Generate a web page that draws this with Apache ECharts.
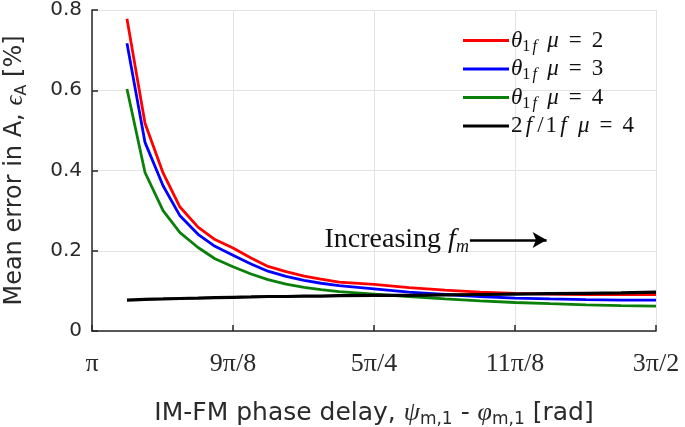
<!DOCTYPE html>
<html>
<head>
<meta charset="utf-8">
<script src="https://cdn.jsdelivr.net/npm/echarts@6/dist/echarts.min.js"></script>
<style>
html,body{margin:0;padding:0;background:#fff;}
#chart{width:685px;height:427px;}
</style>
</head>
<body>
<div id="chart"></div>
<script>
// x values in units of pi (rad / pi)
const phaseDelay = [1.031, 1.047, 1.063, 1.078, 1.094, 1.109, 1.125, 1.141, 1.156, 1.172, 1.188, 1.203, 1.219, 1.25, 1.281, 1.313, 1.344, 1.375, 1.406, 1.438, 1.469, 1.5];
const theta1f_mu2 = [0.778, 0.518, 0.394, 0.309, 0.259, 0.228, 0.207, 0.182, 0.161, 0.148, 0.137, 0.129, 0.122, 0.116, 0.108, 0.102, 0.097, 0.094, 0.092, 0.091, 0.091, 0.091];
const theta1f_mu3 = [0.717, 0.470, 0.362, 0.287, 0.241, 0.211, 0.189, 0.167, 0.149, 0.136, 0.126, 0.119, 0.113, 0.105, 0.097, 0.091, 0.086, 0.082, 0.080, 0.078, 0.077, 0.077];
const theta1f_mu4 = [0.603, 0.395, 0.300, 0.245, 0.208, 0.180, 0.160, 0.142, 0.128, 0.117, 0.109, 0.103, 0.098, 0.092, 0.086, 0.080, 0.075, 0.071, 0.068, 0.065, 0.063, 0.062];
const ratio2f1f_mu4 = [0.077, 0.079, 0.080, 0.081, 0.082, 0.083, 0.084, 0.085, 0.086, 0.086, 0.087, 0.087, 0.088, 0.089, 0.089, 0.090, 0.091, 0.092, 0.093, 0.094, 0.095, 0.097];
const xTickValues = [1, 1.125, 1.25, 1.375, 1.5];
const xTickLabels = ['π', '9π/8', '5π/4', '11π/8', '3π/2'];
const seriesNames = ['s1', 's2', 's3', 's4'];
const legendMu = ['2', '3', '4', '4'];
const annotationFrom = [1.335, 0.227];
const annotationTo = [1.403, 0.227];

const SERIF = '"Liberation Serif", "DejaVu Serif", serif';
const SANS = '"DejaVu Sans", "Liberation Sans", sans-serif';
const TXT = '#2a2a2a';

function pair(xs, ys) { return xs.map((x, i) => [x, ys[i]]); }

const chart = echarts.init(document.getElementById('chart'), null, {renderer: 'canvas'});

const LC = '#111';
const legendRich = {
  n: {fontFamily: SERIF, fontSize: 23, color: LC, lineHeight: 28},
  i: {fontFamily: SERIF, fontStyle: 'italic', fontSize: 23, color: LC, lineHeight: 28},
  f: {fontFamily: SERIF, fontStyle: 'italic', fontSize: 23, color: LC, lineHeight: 28, width: 13, align: 'center'},
  sl: {fontFamily: SERIF, fontSize: 23, color: LC, lineHeight: 28, width: 10, align: 'center'},
  eq: {fontFamily: SERIF, fontSize: 23, color: LC, lineHeight: 28, width: 33, align: 'center'},
  gap: {fontFamily: SERIF, fontSize: 23, color: LC, lineHeight: 28, width: 8},
  s: {fontFamily: SERIF, fontSize: 16, color: LC, lineHeight: 18, verticalAlign: 'bottom'},
  sf: {fontFamily: SERIF, fontStyle: 'italic', fontSize: 16, color: LC, lineHeight: 18, verticalAlign: 'bottom', width: 9, align: 'center'}
};

function titleRich(size) {
  return {
    a: {fontFamily: SANS, fontSize: size, color: TXT, lineHeight: 30},
    g: {fontFamily: SERIF, fontStyle: 'italic', fontSize: size + 1, color: TXT, lineHeight: 30},
    s: {fontFamily: SANS, fontSize: Math.round(size * 0.67), color: TXT, lineHeight: 18, verticalAlign: 'bottom'}
  };
}

const option = {
  animation: false,
  backgroundColor: '#fff',
  grid: {left: 92, right: 29, top: 10, bottom: 96, containLabel: false, outerBoundsMode: 'none'},
  xAxis: {
    type: 'value', min: 1, max: 1.5, interval: 0.125,
    axisLine: {show: true, onZero: false, lineStyle: {color: '#262626', width: 1.5}},
    axisTick: {show: true, inside: true, length: 6, lineStyle: {color: '#262626', width: 1.5}},
    splitLine: {show: true, lineStyle: {color: '#e3e3e3', width: 1}},
    axisLabel: {
      margin: 20, fontFamily: SERIF, fontSize: 26, color: TXT,
      formatter: function (v) {
        for (let i = 0; i < xTickValues.length; i++) if (Math.abs(v - xTickValues[i]) < 1e-6) return xTickLabels[i];
        return '';
      }
    },
    name: '{a|IM-FM phase delay, }{g|ψ}{s|m,1}{a| - }{g|φ}{s|m,1}{a| [rad]}',
    nameLocation: 'middle', nameGap: 67,
    nameTextStyle: {rich: titleRich(25)}
  },
  yAxis: {
    type: 'value', min: 0, max: 0.8, interval: 0.2,
    axisLine: {show: true, lineStyle: {color: '#262626', width: 1.5}},
    axisTick: {show: true, inside: true, length: 6, lineStyle: {color: '#262626', width: 1.5}},
    splitLine: {show: true, lineStyle: {color: '#e3e3e3', width: 1}},
    axisLabel: {margin: 10, fontFamily: SANS, fontSize: 20, color: TXT,
      formatter: function (v) { return v === 0 ? '0' : v.toFixed(1); }},
    name: '{a|Mean error in A, }{g|ϵ}{s|A}{a| [%]}',
    nameLocation: 'middle', nameRotate: 90, nameGap: 62,
    nameTextStyle: {rich: titleRich(24)}
  },
  legend: {
    orient: 'vertical', left: 458, top: 24,
    itemWidth: 46, itemHeight: 3, itemGap: 3,
    icon: 'rect',
    data: seriesNames,
    textStyle: {rich: legendRich, padding: [0, 0, 0, -3]},
    formatter: function (name) {
      const i = seriesNames.indexOf(name);
      if (i < 3) return '{i|θ}{s|1}{sf|f}{gap| }{i|μ}{eq|=}{n|' + legendMu[i] + '}';
      return '{n|2}{f|f}{sl|/}{n|1}{f|f}{gap| }{i|μ}{eq|=}{n|' + legendMu[i] + '}';
    }
  },
  series: [
    {name: 's1', type: 'line', data: pair(phaseDelay, theta1f_mu2), showSymbol: false, color: '#ff0000', lineStyle: {width: 2.8}, z: 4},
    {name: 's2', type: 'line', data: pair(phaseDelay, theta1f_mu3), showSymbol: false, color: '#0000ff', lineStyle: {width: 2.8}, z: 3},
    {name: 's3', type: 'line', data: pair(phaseDelay, theta1f_mu4), showSymbol: false, color: '#0a800a', lineStyle: {width: 2.8}, z: 2},
    {name: 's4', type: 'line', data: pair(phaseDelay, ratio2f1f_mu4), showSymbol: false, color: '#000000', lineStyle: {width: 3.2}, z: 5,
      markLine: {
        silent: true, symbol: ['none', 'arrow'], symbolSize: [12, 14],
        lineStyle: {color: '#000', width: 2.5, type: 'solid'},
        label: {
          show: true, position: 'start', distance: 1,
          formatter: '{rm|Increasing }{it|f}{sub|m}',
          rich: {
            rm: {fontFamily: SERIF, fontSize: 28, color: '#111', lineHeight: 32},
            it: {fontFamily: SERIF, fontStyle: 'italic', fontSize: 28, color: '#111', lineHeight: 32},
            sub: {fontFamily: SERIF, fontStyle: 'italic', fontSize: 18, color: '#111', lineHeight: 20, verticalAlign: 'bottom'}
          }
        },
        data: [[{coord: annotationFrom}, {coord: annotationTo}]]
      }
    }
  ]
};
chart.setOption(option);
</script>
</body>
</html>
